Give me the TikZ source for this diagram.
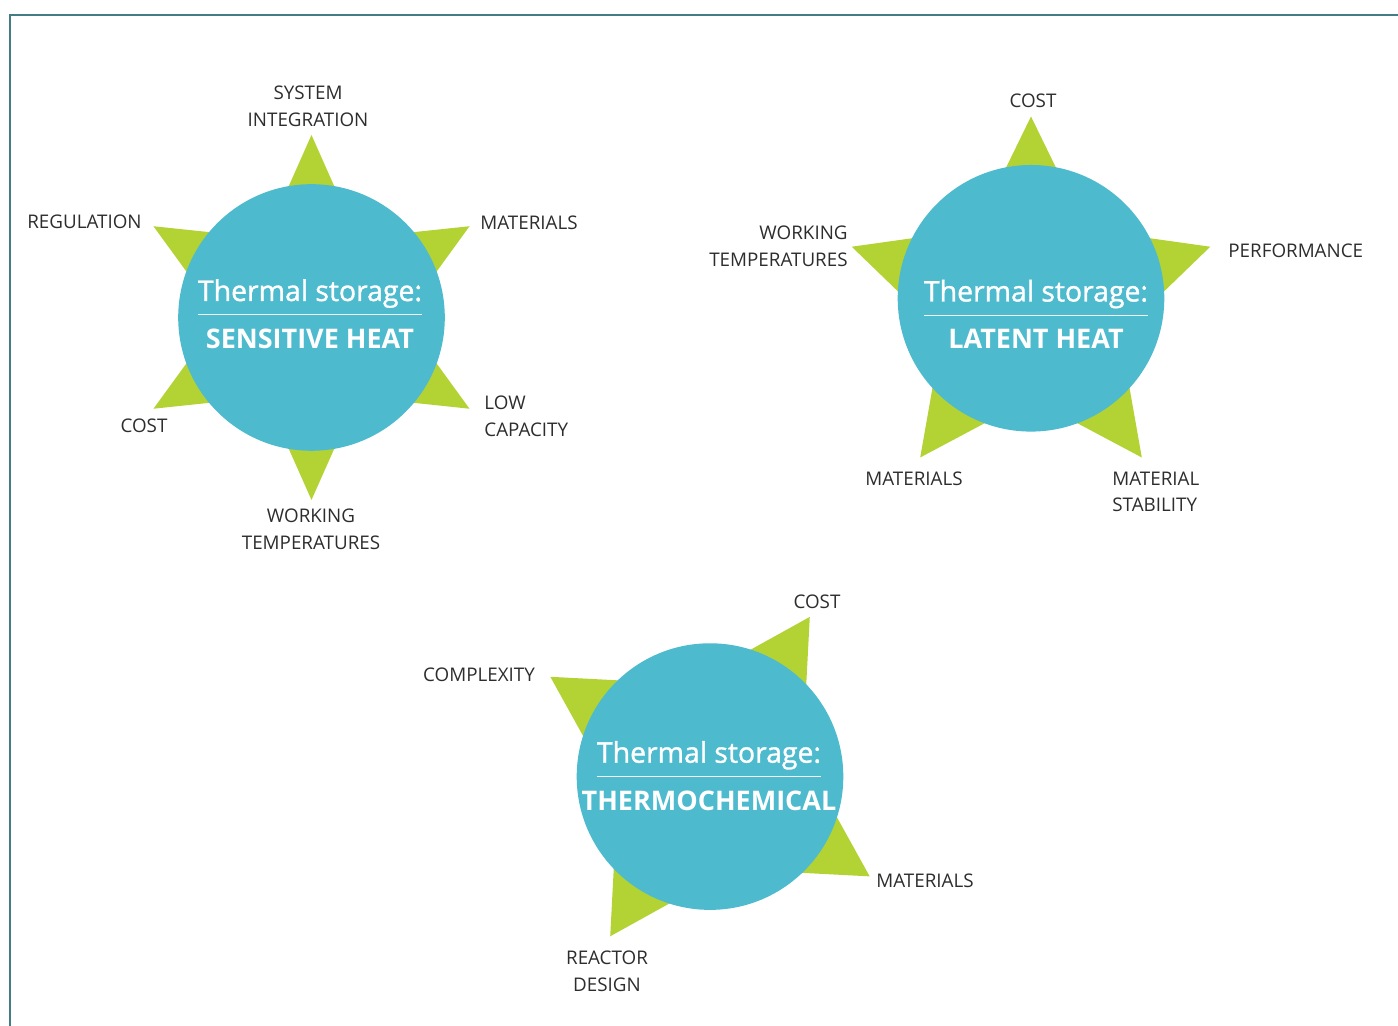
\documentclass[tikz,border=0pt]{standalone}
\usepackage{fontspec}
\setmainfont{Open Sans}
\newfontfamily\titlefont{Open Sans}[FakeBold=1.2]
\usetikzlibrary{positioning}

\definecolor{disc}{RGB}{77,186,206}
\definecolor{spike}{RGB}{179,211,52}
\definecolor{ink}{RGB}{45,45,45}
\definecolor{edge}{RGB}{66,124,132}

\tikzset{
	disc/.style={circle,fill=disc,minimum size=133.3pt,inner sep=0pt},
	spike/.style={fill=spike},
	title/.style={text=white,inner sep=0pt,font=\titlefont\fontsize{14.2}{16}\selectfont},
	kind/.style={text=white,inner sep=0pt,font=\fontsize{13.5}{16}\selectfont\bfseries},
	rule/.style={draw=white!92!disc,line width=0.7pt},
	lbl/.style={text=ink,inner sep=0pt,align=center,font=\fontsize{9.4}{13.3}\selectfont},
	edge/.style={draw=edge,line width=1pt}
}

\begin{document}
\begin{tikzpicture}[x=0.5pt,y=0.5pt]
	\useasboundingbox (0,0) rectangle (1398,1026);
	\draw[edge] (10,0) -- (10,1011) -- (1398,1011);

	% sensitive heat: six spikes behind the disc
	\foreach \a in {90,30,-30,-90,-150,150}
		\fill[spike,shift={(311.5,708.5)},rotate=\a] (182.5,0) -- (70,50) -- (70,-50) -- cycle;
	\node[disc] (sens) at (311.5,708.5) {};
	\node[title,anchor=base] (sensT) at (310,725) {Thermal storage:};
	\draw[rule] ([yshift=-6.8pt]sensT.base west) -- ([yshift=-6.8pt]sensT.base east);
	\node[kind,anchor=base] (sensK) at (310,677) {SENSITIVE HEAT};
	\node[lbl] (sens1) at (308,919.5) {SYSTEM\\INTEGRATION};
	\node[lbl,anchor=west] (sens2) at (480,803) {MATERIALS};
	\node[lbl,anchor=west,align=left] (sens3) at (484,609.5) {LOW\\CAPACITY};
	\node[lbl] (sens4) at (311,496.5) {WORKING\\TEMPERATURES};
	\node[lbl] (sens5) at (144,600) {COST};
	\node[lbl,anchor=east] (sens6) at (142,804) {REGULATION};

	% latent heat: five spikes
	\foreach \a in {90,18,-54,-126,162}
		\fill[spike,shift={(1031,721)},rotate=\a] (188.5,0) -- (70,57.8) -- (70,-57.8) -- cycle;
	\node[disc] (lat) at (1031,727.7) {};
	\node[title,anchor=base] (latT) at (1036,724.5) {Thermal storage:};
	\draw[rule] ([yshift=-6.9pt]latT.base west) -- ([yshift=-6.9pt]latT.base east);
	\node[kind,anchor=base] (latK) at (1036,677.5) {LATENT HEAT};
	\node[lbl] (lat1) at (1033,925) {COST};
	\node[lbl,anchor=west] (lat2) at (1228,775) {PERFORMANCE};
	\node[lbl,anchor=west,align=left] (lat3) at (1112,534) {MATERIAL\\STABILITY};
	\node[lbl] (lat4) at (914,547) {MATERIALS};
	\node[lbl,anchor=east,align=right] (lat5) at (848,779.5) {WORKING\\TEMPERATURES};

	% thermochemical: four spikes
	\foreach \a in {58,148,238,328}
		\fill[spike,shift={(710,249.4)},rotate=\a] (188.3,0) -- (70,65.6) -- (70,-65.6) -- cycle;
	\node[disc] (chem) at (710,249.4) {};
	\node[title,anchor=base] (chemT) at (709,263.3) {Thermal storage:};
	\draw[rule] ([yshift=-7pt]chemT.base west) -- ([yshift=-7pt]chemT.base east);
	\node[kind,anchor=base] (chemK) at (709,215) {THERMOCHEMICAL};
	\node[lbl] (chem1) at (817,424) {COST};
	\node[lbl,anchor=west] (chem2) at (876,145) {MATERIALS};
	\node[lbl] (chem3) at (607,54.5) {REACTOR\\DESIGN};
	\node[lbl] (chem4) at (479,351) {COMPLEXITY};
\end{tikzpicture}
\end{document}
